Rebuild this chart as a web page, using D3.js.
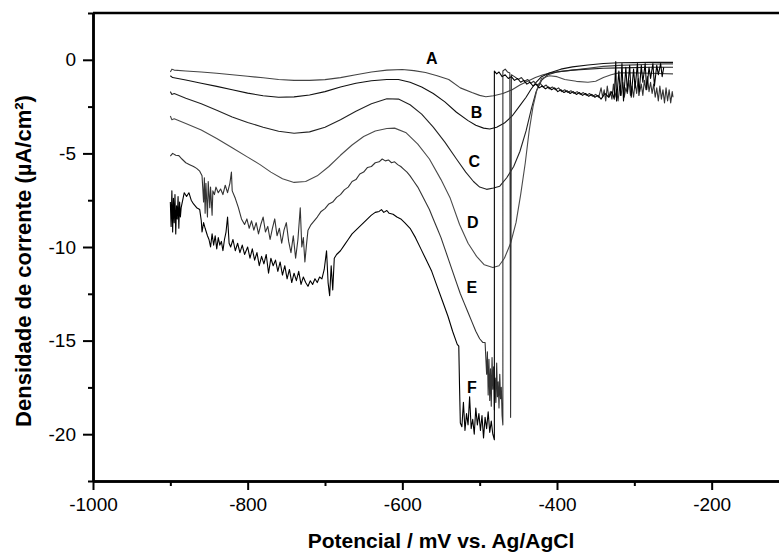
<!DOCTYPE html>
<html><head><meta charset="utf-8">
<script src="https://cdn.jsdelivr.net/npm/d3@7"></script>
<style>
body{margin:0;background:#fff;}
svg{display:block;}
text{font-family:"Liberation Sans",Arial,sans-serif;}
</style></head>
<body><svg id="chart" width="779" height="554"></svg>
<script>
// ---------- data (potential mV, current density uA/cm2) ----------
const xMajorTicks = [-1000, -800, -600, -400, -200];
const xMinorTicks = [-900, -700, -500, -300, -100];
const yMajorTicks = [-20, -15, -10, -5, 0];
const yMinorTicks = [-22.5, -17.5, -12.5, -7.5, -2.5, 2.5];
const xTitle = "Potencial / mV vs. Ag/AgCl";
const yTitle = "Densidade de corrente (µA/cm²)";

const curveNames = ["A", "B", "C", "D", "E", "F"];
const labelPos = [[-562, 0.07], [-504, -2.82], [-507, -5.42], [-509, -8.68], [-510, -12.15], [-510, -17.5]];

const seriesA = [[-900,-0.65],[-898,-0.5],[-895,-0.55],[-880,-0.6],[-860,-0.65],[-840,-0.72],[-820,-0.8],[-800,-0.88],[-780,-0.96],[-760,-1.05],[-740,-1.1],[-720,-1.1],[-700,-1.06],[-680,-0.95],[-660,-0.8],[-640,-0.65],[-620,-0.55],[-600,-0.52],[-585,-0.58],[-570,-0.68],[-555,-0.85],[-540,-1.05],[-525,-1.5],[-510,-1.75],[-500,-1.9],[-492,-1.97],[-482,-1.92],[-470,-1.8],[-458,-1.6],[-448,-1.35],[-438,-1.15],[-428,-0.95],[-418,-0.8],[-408,-0.7],[-395,-0.62],[-380,-0.55],[-360,-0.45],[-340,-0.35],[-320,-0.3],[-300,-0.27],[-280,-0.24],[-260,-0.22],[-250,-0.22]];

const seriesB = [[-900,-0.85],[-897,-0.95],[-880,-1.08],[-860,-1.25],[-840,-1.42],[-820,-1.6],[-800,-1.78],[-780,-1.92],[-760,-2.0],[-740,-1.98],[-720,-1.88],[-700,-1.7],[-680,-1.45],[-660,-1.25],[-640,-1.12],[-620,-1.05],[-605,-1.05],[-590,-1.2],[-575,-1.45],[-560,-1.8],[-545,-2.25],[-530,-2.8],[-515,-3.25],[-505,-3.5],[-495,-3.65],[-487,-3.7],[-478,-3.6],[-468,-3.38],[-458,-3.0],[-448,-2.45],[-440,-2.0],[-434,-1.6],[-428,-1.25],[-420,-0.9],[-410,-0.7],[-395,-0.5],[-380,-0.38],[-360,-0.28],[-340,-0.2],[-320,-0.16],[-300,-0.15],[-280,-0.14],[-250,-0.14]];

const seriesC = [[-900,-1.7],[-898,-1.85],[-895,-1.8],[-880,-2.05],[-860,-2.35],[-840,-2.7],[-820,-3.05],[-800,-3.35],[-780,-3.6],[-760,-3.82],[-740,-3.92],[-720,-3.85],[-700,-3.6],[-680,-3.2],[-660,-2.75],[-640,-2.35],[-620,-2.08],[-605,-2.1],[-590,-2.4],[-575,-2.9],[-560,-3.6],[-545,-4.4],[-530,-5.3],[-518,-6.0],[-508,-6.5],[-500,-6.8],[-491,-6.92],[-482,-6.85],[-474,-6.75],[-465,-6.3],[-456,-5.7],[-448,-4.9],[-440,-3.8],[-433,-2.6],[-427,-1.7],[-420,-1.1],[-412,-0.8],[-400,-0.65],[-380,-0.55],[-360,-0.5],[-340,-0.45],[-320,-0.43],[-300,-0.42],[-280,-0.4],[-250,-0.4]];

const seriesD = [[-900,-3.0],[-898,-3.2],[-895,-3.15],[-880,-3.4],[-860,-3.75],[-840,-4.2],[-820,-4.7],[-800,-5.2],[-784,-5.6],[-770,-6.0],[-755,-6.35],[-740,-6.55],[-725,-6.5],[-710,-6.2],[-695,-5.7],[-680,-5.1],[-665,-4.55],[-650,-4.1],[-635,-3.8],[-620,-3.67],[-610,-3.65],[-595,-3.9],[-580,-4.5],[-565,-5.3],[-550,-6.4],[-538,-7.4],[-526,-8.8],[-515,-9.8],[-504,-10.5],[-494,-10.95],[-483,-11.1],[-475,-11.0],[-468,-10.6],[-460,-9.8],[-453,-8.7],[-447,-7.2],[-441,-5.5],[-436,-3.8],[-431,-2.5],[-426,-1.6],[-420,-1.0],[-410,-0.85],[-400,-0.9],[-390,-1.05],[-375,-1.15],[-360,-1.2],[-350,-1.15],[-340,-0.95],[-330,-0.8],[-320,-0.7],[-300,-0.7],[-280,-0.72],[-250,-0.75]];

const seriesE = [[-900,-5.15],[-897,-5.0],[-893,-5.1],[-889,-5.12],[-885,-5.3],[-880,-5.5],[-875,-5.6],[-870,-5.7],[-866,-5.8],[-862,-5.95],[-859,-6.2],
[-857,-7.6],[-856,-6.3],[-855,-8.2],[-854,-6.6],[-852,-8.4],[-851,-6.5],[-849,-7.9],[-848,-6.8],[-846,-8.3],[-845,-7.0],[-843,-7.2],[-841,-6.8],[-838,-7.1],[-835,-6.9],[-832,-7.2],[-829,-6.7],[-826,-7.1],[-823,-6.6],[-821,-6.0],[-820,-7.0],[-816,-7.4],[-812,-7.9],[-808,-8.5],[-804,-8.8],[-801,-8.5],[-798,-9.0],[-795,-8.6],[-792,-9.1],[-789,-8.7],[-786,-9.3],[-783,-8.8],[-780,-8.4],[-777,-9.2],[-774,-8.9],[-771,-9.6],[-768,-9.0],[-765,-8.5],[-762,-9.4],[-759,-9.0],[-756,-9.8],[-753,-9.1],[-750,-8.7],[-747,-9.7],[-744,-10.3],[-741,-9.4],[-738,-10.6],[-735,-9.6],[-732,-7.9],[-730,-10.0],[-728,-9.5],[-726,-10.8],[-724,-9.9],[-722,-9.1],
[-718,-8.8],[-714,-8.6],[-710,-8.4],[-705,-8.1],[-700,-7.95],[-695,-7.7],[-690,-7.6],[-685,-7.35],[-680,-7.2],[-675,-6.95],[-670,-6.8],[-665,-6.5],[-660,-6.4],[-655,-6.1],[-650,-6.0],[-645,-5.75],[-640,-5.7],[-635,-5.5],[-630,-5.45],[-626,-5.3],[-622,-5.4],[-618,-5.35],[-614,-5.5],[-610,-5.45],[-606,-5.6],[-602,-5.7],[-598,-5.85],[-594,-6.0],[-590,-6.2],[-585,-6.5],[-580,-6.8],[-575,-7.2],[-570,-7.6],[-565,-8.0],[-560,-8.5],[-555,-9.0],[-550,-9.5],[-545,-10.1],[-540,-10.7],[-535,-11.3],[-530,-11.9],[-525,-12.5],[-520,-13.0],[-515,-13.5],[-510,-14.0],[-505,-14.5],[-500,-14.9],[-496,-15.1],[-493,-15.1],
[-491,-16.8],[-490,-15.6],[-489,-17.9],[-488,-16.0],[-487,-18.2],[-486,-16.5],[-485,-18.5],[-484,-15.9],[-483,-17.6],[-482,-16.4],[-481,-18.7],[-480,-17.0],[-479,-18.3],[-478,-16.2],[-477,-18.0],[-476,-17.2],[-475,-18.6],[-474,-16.8],[-473,-18.1],[-472,-17.5],[-471,-19.0],[-470,-19.5],[-470,-0.6],[-467,-0.5],[-464,-0.65],[-461,-0.7],[-460,-19.1],[-459,-0.8],
[-455,-0.9],[-450,-1.05],[-446,-0.95],[-442,-1.15],[-438,-1.05],[-434,-1.25],[-430,-1.15],[-426,-1.35],[-422,-1.25],[-418,-1.45],[-414,-1.35],[-410,-1.55],[-406,-1.45],[-402,-1.6],[-398,-1.5],[-394,-1.7],[-390,-1.6],[-386,-1.75],[-382,-1.65],[-378,-1.8],[-374,-1.7],[-370,-1.85],[-366,-1.75],[-362,-1.9],[-358,-1.8],[-354,-1.95],[-350,-1.85],[-346,-2.0],
[-343,-1.5],[-341,-2.0],[-339,-1.6],[-337,-2.2],[-335,-1.4],[-333,-2.0],[-331,-1.7],[-329,-2.1],[-327,-1.3],[-325,-2.0],[-323,-1.6],[-321,-2.2],[-319,-1.4],[-317,-1.9],[-315,-1.2],[-313,-2.0],[-311,-1.5],[-309,-1.8],[-307,-1.1],[-305,-1.9],[-303,-1.4],[-301,-2.0],[-299,-1.2],[-297,-1.8],[-295,-1.0],[-293,-1.7],[-291,-1.3],[-289,-1.9],[-287,-1.1],[-285,-1.6],[-283,-0.9],[-281,-1.7],[-279,-1.2],[-277,-1.8],[-275,-1.3],[-273,-2.0],[-271,-1.5],[-269,-2.2],[-267,-1.4],[-265,-2.1],[-263,-1.6],[-261,-2.3],[-259,-1.5],[-257,-2.2],[-255,-1.6],[-253,-2.3],[-251,-1.7],[-250,-2.0]];

const seriesF = [[-900,-7.6],[-899,-8.9],[-898,-7.0],[-897,-9.2],[-896,-7.4],[-895,-8.7],[-894,-7.2],[-893,-9.3],[-892,-7.8],[-891,-8.5],[-890,-7.3],[-889,-9.0],[-888,-7.6],[-887,-8.4],[-886,-7.9],[-884,-7.5],[-882,-7.1],[-879,-7.3],[-876,-7.1],[-873,-7.5],[-870,-7.7],[-866,-7.9],[-862,-8.0],[-860,-8.6],[-859,-9.2],[-857,-8.7],[-855,-9.0],[-852,-9.4],[-850,-9.6],[-848,-10.0],[-846,-9.3],[-844,-9.9],[-842,-9.4],[-840,-10.1],[-838,-9.5],[-836,-9.9],[-834,-9.7],[-832,-10.2],[-830,-9.6],[-828,-9.2],[-826,-8.4],[-824,-9.8],[-822,-10.0],[-819,-9.6],[-816,-10.2],[-813,-9.8],[-810,-10.3],[-807,-9.9],[-804,-10.4],[-800,-10.0],[-797,-10.6],[-794,-10.1],[-791,-10.7],[-788,-10.3],[-785,-11.0],[-782,-10.5],[-779,-10.9],[-776,-10.4],[-773,-11.4],[-770,-10.6],[-767,-11.0],[-764,-10.7],[-761,-11.3],[-758,-10.8],[-755,-11.5],[-752,-11.0],[-749,-11.7],[-746,-11.2],[-743,-11.9],[-740,-11.4],[-737,-11.8],[-734,-11.3],[-731,-12.0],[-728,-11.6],[-725,-11.9],[-722,-12.1],[-719,-11.8],[-716,-12.0],[-713,-11.7],[-710,-11.9],[-707,-11.6],[-704,-11.7],[-701,-11.2],[-698,-10.2],[-696,-11.9],[-694,-12.6],[-692,-11.0],[-690,-12.3],[-688,-10.6],[-685,-10.4],[-680,-10.2],[-675,-9.9],[-670,-9.6],[-665,-9.3],[-660,-9.1],[-655,-8.9],[-650,-8.7],[-645,-8.5],[-640,-8.3],[-635,-8.15],[-630,-8.1],[-627,-8.0],[-624,-8.15],[-620,-8.05],[-617,-8.2],[-612,-8.25],[-607,-8.4],[-602,-8.5],[-597,-8.7],[-590,-9.0],[-583,-9.5],[-576,-10.1],[-569,-10.7],[-562,-11.3],[-555,-12.1],[-548,-12.9],[-541,-13.7],[-535,-14.5],[-529,-15.2],[-527,-15.3],[-526,-17.5],[-525,-19.4],
[-523,-19.6],[-521,-18.3],[-519,-19.8],[-517,-18.9],[-515,-19.5],[-513,-18.0],[-511,-19.7],[-509,-19.2],[-507,-20.0],[-505,-18.6],[-503,-19.5],[-501,-18.9],[-499,-19.8],[-497,-19.0],[-495,-20.2],[-493,-19.1],[-491,-19.7],[-489,-18.8],[-487,-19.9],[-485,-19.3],[-483,-20.0],[-481,-20.3],[-481,-0.6],
[-478,-0.75],[-475,-0.65],[-471,-0.9],[-467,-0.8],[-463,-1.0],[-459,-0.9],[-455,-1.1],[-451,-1.0],[-447,-1.2],[-443,-1.1],[-439,-1.3],[-435,-1.2],[-431,-1.4],[-427,-1.3],[-423,-1.5],[-419,-1.4],[-415,-1.55],[-411,-1.45],[-407,-1.6],[-403,-1.5],[-399,-1.7],[-395,-1.6],[-391,-1.75],[-387,-1.65],[-383,-1.8],[-379,-1.7],[-375,-1.85],[-371,-1.75],[-367,-1.9],[-363,-1.8],[-359,-1.95],[-355,-1.85],[-351,-2.0],[-347,-1.9],[-343,-2.1],[-338,-1.8],[-333,-2.0],[-329,-1.7],
[-326,-2.1],[-324,-0.1],[-323,-2.2],[-320,-0.6],[-318,-1.9],[-316,-0.2],[-314,-2.2],[-311,-0.4],[-309,-1.7],[-306,-0.3],[-304,-2.0],[-301,-0.5],[-299,-1.5],[-296,-0.2],[-294,-1.9],[-291,-0.3],[-289,-1.2],[-286,-0.2],[-284,-1.6],[-281,-0.4],[-279,-1.0],[-276,-0.2],[-274,-1.4],[-271,-0.3],[-269,-0.8],[-266,-0.2],[-264,-0.9],[-262,-0.4]];

const allSeries = [seriesA, seriesB, seriesC, seriesD, seriesE, seriesF];
const seriesColors = ["#444", "#111", "#222", "#4a4a4a", "#333", "#000"];

// ---------- layout ----------
const svg = d3.select("#chart");
const x = d3.scaleLinear().domain([-1000, -100]).range([93, 789]);
const y = d3.scaleLinear().domain([-22.5, 2.5]).range([481, 13]);

const line = d3.line().x(d => x(d[0])).y(d => y(d[1]));

svg.append("g").selectAll("path").data(allSeries).join("path")
  .attr("d", line)
  .attr("fill", "none")
  .attr("stroke", (d, i) => seriesColors[i])
  .attr("stroke-width", 1.1)
  .attr("stroke-linejoin", "round");

// frame (top + right)
svg.append("line").attr("x1", x(-1000)).attr("x2", x(-100)).attr("y1", y(2.5)).attr("y2", y(2.5))
  .attr("stroke", "#000").attr("stroke-width", 2.5);
svg.append("line").attr("x1", x(-100)).attr("x2", x(-100)).attr("y1", y(2.5)).attr("y2", y(-22.5))
  .attr("stroke", "#000").attr("stroke-width", 2.5);

function styleAxis(g) {
  g.select(".domain").attr("stroke", "#000").attr("stroke-width", 2.5);
  g.selectAll(".tick line").attr("stroke", "#000").attr("stroke-width", 2);
  g.selectAll(".tick text").attr("fill", "#000").style("font-size", "19px")
    .style("font-family", "'Liberation Sans', Arial, sans-serif");
}

// x axis
const gx = svg.append("g").attr("transform", `translate(0,${y(-22.5)})`)
  .call(d3.axisBottom(x).tickValues(xMajorTicks).tickSize(9).tickSizeOuter(0).tickPadding(8).tickFormat(d => String(d)));
styleAxis(gx);
const gxm = svg.append("g").attr("transform", `translate(0,${y(-22.5)})`)
  .call(d3.axisBottom(x).tickValues(xMinorTicks).tickSize(5).tickSizeOuter(0).tickFormat(""));
styleAxis(gxm);

// y axis
const gy = svg.append("g").attr("transform", `translate(${x(-1000)},0)`)
  .call(d3.axisLeft(y).tickValues(yMajorTicks).tickSize(10).tickSizeOuter(0).tickPadding(7).tickFormat(d => String(d)));
styleAxis(gy);
const gym = svg.append("g").attr("transform", `translate(${x(-1000)},0)`)
  .call(d3.axisLeft(y).tickValues(yMinorTicks).tickSize(5).tickSizeOuter(0).tickFormat(""));
styleAxis(gym);

// curve labels
svg.append("g").selectAll("text").data(curveNames).join("text")
  .attr("x", (d, i) => x(labelPos[i][0]))
  .attr("y", (d, i) => y(labelPos[i][1]))
  .attr("dy", "0.36em")
  .attr("text-anchor", "middle")
  .style("font-size", "16px").style("font-weight", "bold").attr("fill", "#000")
  .text(d => d);

// axis titles
svg.append("text").attr("x", (x(-1000) + x(-100)) / 2).attr("y", 548)
  .attr("text-anchor", "middle").style("font-size", "21px").style("font-weight", "bold")
  .text(xTitle);
svg.append("text").attr("transform", "translate(31,261) rotate(-90)")
  .attr("text-anchor", "middle").style("font-size", "22px").style("font-weight", "bold")
  .text(yTitle);
</script></body></html>
